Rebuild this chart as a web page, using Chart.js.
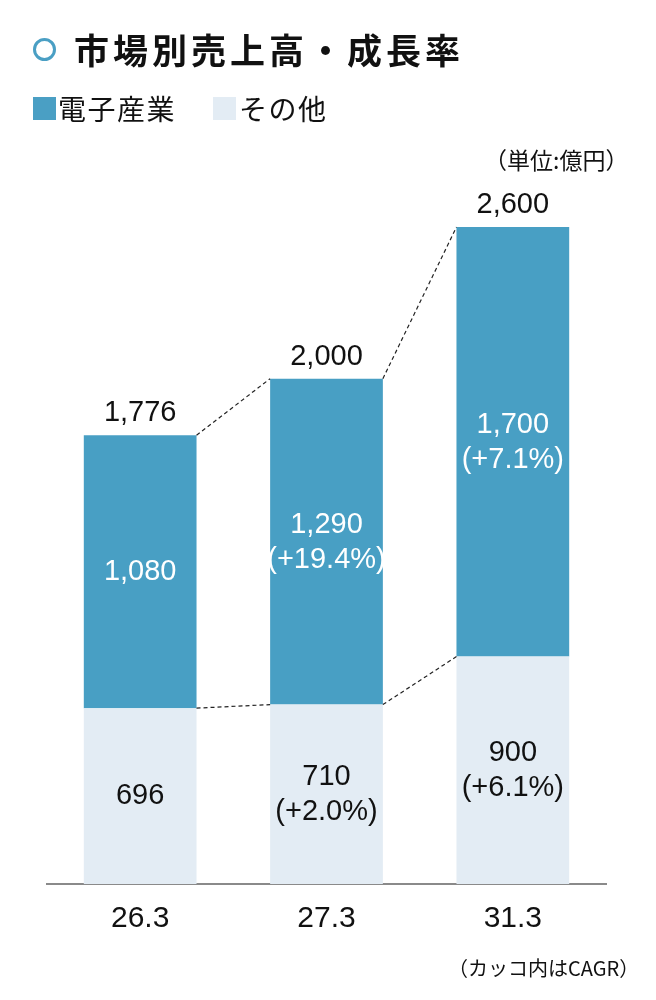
<!DOCTYPE html>
<html>
<head>
<meta charset="utf-8">
<script src="https://cdn.jsdelivr.net/npm/chart.js@4"></script>
<style>
  body { margin: 0; background: #fff; font-family: "Liberation Sans", "Noto Sans CJK JP", sans-serif; }
  #wrap { position: relative; width: 656px; height: 1000px; }
  #wrap canvas { position: absolute; left: 0; top: 0; }
  .txt { position: absolute; white-space: nowrap; color: #111; font-family: "Noto Sans CJK JP", sans-serif; }
  .circle { position: absolute; left: 33px; top: 38px; width: 17px; height: 17px; border: 3px solid #4a9fc4; border-radius: 50%; }
  .sq { position: absolute; width: 23px; height: 23px; }
</style>
</head>
<body>
<div id="wrap">
  <canvas id="myChart" width="656" height="1000"></canvas>
  <div class="circle"></div>
  <div class="txt" style="left:74px; top:23px; font-size:35px; font-weight:bold; letter-spacing:4px;">市場別売上高・成長率</div>
  <div class="sq" style="left:33px; top:97px; background:#4a9fc4;"></div>
  <div class="txt" style="left:58px; top:88px; font-size:28px; letter-spacing:1.5px;">電子産業</div>
  <div class="sq" style="left:213px; top:97px; background:#e3ecf4;"></div>
  <div class="txt" style="left:239px; top:88px; font-size:28px; letter-spacing:1.5px;">その他</div>
  <div class="txt" style="left:484px; top:142px; font-size:23px;">（単位:億円）</div>
  <div class="txt" style="left:448px; top:953px; font-size:20px;">（カッコ内はCAGR）</div>
</div>
<script>
const categories = ['26.3', '27.3', '31.3'];
const electronics = [1080, 1290, 1700];
const others = [696, 710, 900];
const totals = [1776, 2000, 2600];
const electronicsCagr = [null, '+19.4%', '+7.1%'];
const othersCagr = [null, '+2.0%', '+6.1%'];

const blue = '#489fc4';
const light = '#e3ecf4';

function fmt(n) { return n.toLocaleString('en-US'); }

// dashed connectors + value labels
const labelPlugin = {
  id: 'labels',
  afterDatasetsDraw(chart) {
    const ctx = chart.ctx;
    const low = chart.getDatasetMeta(0).data;
    const high = chart.getDatasetMeta(1).data;

    ctx.save();
    ctx.setLineDash([4, 3]);
    ctx.strokeStyle = '#222';
    ctx.lineWidth = 1.2;
    for (let i = 0; i < low.length - 1; i++) {
      const a = high[i], b = high[i + 1];
      ctx.beginPath();
      ctx.moveTo(a.x + a.width / 2, a.y);
      ctx.lineTo(b.x - b.width / 2, b.y);
      ctx.stroke();
      const c = low[i], d = low[i + 1];
      ctx.beginPath();
      ctx.moveTo(c.x + c.width / 2, c.y);
      ctx.lineTo(d.x - d.width / 2, d.y);
      ctx.stroke();
    }
    ctx.restore();

    ctx.save();
    ctx.font = '29px "Liberation Sans", Arial, sans-serif';
    ctx.textAlign = 'center';
    ctx.textBaseline = 'middle';
    for (let i = 0; i < low.length; i++) {
      // totals
      ctx.fillStyle = '#111';
      ctx.fillText(fmt(totals[i]), high[i].x, high[i].y - 22);

      // electronics segment
      let mid = (high[i].y + high[i].base) / 2;
      ctx.fillStyle = '#fff';
      if (electronicsCagr[i]) {
        ctx.fillText(fmt(electronics[i]), high[i].x, mid - 17);
        ctx.fillText('(' + electronicsCagr[i] + ')', high[i].x, mid + 18);
      } else {
        ctx.fillText(fmt(electronics[i]), high[i].x, mid);
      }

      // others segment
      mid = (low[i].y + low[i].base) / 2;
      ctx.fillStyle = '#111';
      if (othersCagr[i]) {
        ctx.fillText(fmt(others[i]), low[i].x, mid - 17);
        ctx.fillText('(' + othersCagr[i] + ')', low[i].x, mid + 18);
      } else {
        ctx.fillText(fmt(others[i]), low[i].x, mid);
      }
    }
    ctx.restore();
  }
};

const ctx = document.getElementById('myChart').getContext('2d');
const myChart = new Chart(ctx, {
  type: 'bar',
  data: {
    labels: categories,
    datasets: [
      { label: 'その他', data: others, backgroundColor: light, barPercentage: 0.605, categoryPercentage: 1 },
      { label: '電子産業', data: electronics, backgroundColor: blue, barPercentage: 0.605, categoryPercentage: 1 }
    ]
  },
  options: {
    responsive: false,
    animation: false,
    layout: { padding: { left: 47, right: 50, top: 126, bottom: 0 } },
    plugins: { legend: { display: false }, tooltip: { enabled: false } },
    scales: {
      x: {
        stacked: true,
        grid: { display: false, drawTicks: false },
        border: { display: true, color: '#8a8a8a', width: 2 },
        ticks: { color: '#111', font: { size: 30, family: '"Liberation Sans", Arial, sans-serif' }, padding: 17 },
        afterFit(axis) { axis.height = 116; }
      },
      y: {
        stacked: true,
        display: false,
        min: 0,
        max: 3000
      }
    }
  },
  plugins: [labelPlugin]
});
</script>
</body>
</html>
